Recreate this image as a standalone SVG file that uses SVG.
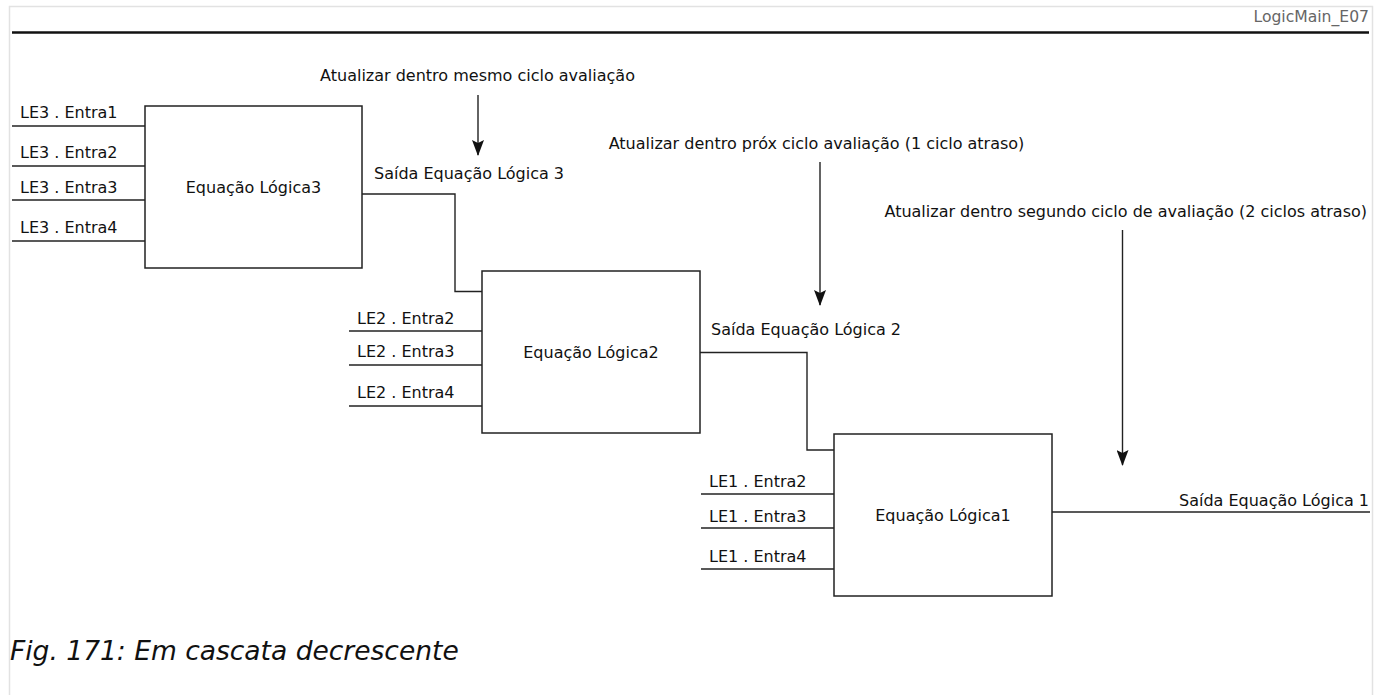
<svg xmlns="http://www.w3.org/2000/svg" width="1383" height="695" viewBox="0 0 1383 695">
<defs>
<style>
text{font-family:"DejaVu Sans","Noto Sans",sans-serif;font-size:16px;fill:#111}
.lbl{font-size:15.5px}
.wire{fill:none;stroke:#222;stroke-width:1.4}
.box{fill:#fff;stroke:#222;stroke-width:1.5}
.ann{stroke:#222;stroke-width:1.4;fill:none}
.mid{text-anchor:middle}
</style>
<marker id="ah" viewBox="0 0 16 12" refX="15" refY="6" markerWidth="16" markerHeight="12" markerUnits="userSpaceOnUse" orient="auto">
<path d="M0,0 L16,6 L0,12 L3,6 Z" fill="#111"/>
</marker>
</defs>
<rect width="1383" height="695" fill="#fff"/>
<path d="M9.5,695 V6.5 H1372.5 V695" fill="none" stroke="#e2e2e2" stroke-width="1.5"/>
<line x1="12" y1="32.5" x2="1369" y2="32.5" stroke="#111" stroke-width="2.6"/>
<text x="1369" y="22" text-anchor="end" style="fill:#666;font-size:15.6px">LogicMain_E07</text>

<g id="connectors">
<line class="wire" x1="12" y1="126" x2="145" y2="126"/>
<line class="wire" x1="12" y1="166" x2="145" y2="166"/>
<line class="wire" x1="12" y1="200" x2="145" y2="200"/>
<line class="wire" x1="12" y1="241" x2="145" y2="241"/>
<line class="wire" x1="349" y1="331" x2="482" y2="331"/>
<line class="wire" x1="349" y1="365" x2="482" y2="365"/>
<line class="wire" x1="349" y1="406" x2="482" y2="406"/>
<line class="wire" x1="701" y1="494" x2="834" y2="494"/>
<line class="wire" x1="701" y1="528" x2="834" y2="528"/>
<line class="wire" x1="701" y1="569" x2="834" y2="569"/>
<path class="wire" d="M362,194 H455 V291.5 H482"/>
<path class="wire" d="M700,352.5 H807 V450 H834"/>
<line class="wire" x1="1052" y1="512" x2="1370" y2="512"/>
<line class="ann" x1="478" y1="95" x2="478" y2="155" marker-end="url(#ah)"/>
<line class="ann" x1="820" y1="162" x2="820" y2="305" marker-end="url(#ah)"/>
<line class="ann" x1="1122.5" y1="230" x2="1122.5" y2="465" marker-end="url(#ah)"/>
</g>

<g id="node-le3">
<rect class="box" x="145" y="106" width="217" height="162"/>
<text class="mid" x="253.5" y="193">Equação Lógica3</text>
<text x="20" y="118">LE3 . Entra1</text>
<text x="20" y="158">LE3 . Entra2</text>
<text x="20" y="193">LE3 . Entra3</text>
<text x="20" y="233">LE3 . Entra4</text>
<text x="374" y="179">Saída Equação Lógica 3</text>
</g>

<g id="node-le2">
<rect class="box" x="482" y="271" width="218" height="162"/>
<text class="mid" x="591" y="358">Equação Lógica2</text>
<text x="357" y="324">LE2 . Entra2</text>
<text x="357" y="357">LE2 . Entra3</text>
<text x="357" y="398">LE2 . Entra4</text>
<text x="711" y="335">Saída Equação Lógica 2</text>
</g>

<g id="node-le1">
<rect class="box" x="834" y="434" width="218" height="162"/>
<text class="mid" x="943" y="521">Equação Lógica1</text>
<text x="709" y="487">LE1 . Entra2</text>
<text x="709" y="522">LE1 . Entra3</text>
<text x="709" y="562">LE1 . Entra4</text>
<text x="1369" y="506" text-anchor="end">Saída Equação Lógica 1</text>
</g>

<g id="annotations">
<text class="mid" x="477.5" y="81">Atualizar dentro mesmo ciclo avaliação</text>
<text class="mid" x="816.5" y="149">Atualizar dentro próx ciclo avaliação (1 ciclo atraso)</text>
<text x="1367" y="217" text-anchor="end">Atualizar dentro segundo ciclo de avaliação (2 ciclos atraso)</text>
</g>

<text x="10" y="660" style="font-style:italic;font-size:26.5px">Fig. 171: Em cascata decrescente</text>
</svg>
